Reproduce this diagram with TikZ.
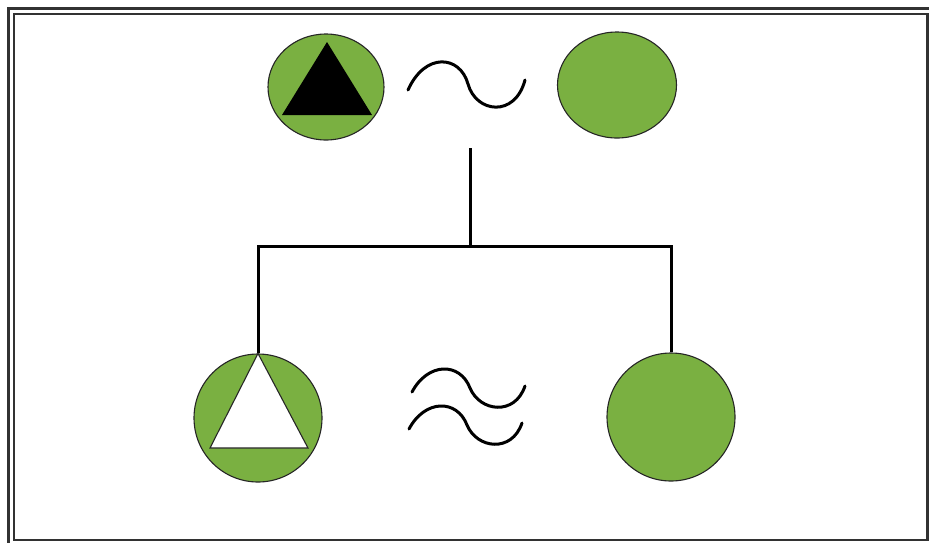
\documentclass[tikz,border=0pt]{standalone}
\usetikzlibrary{shapes.geometric}
\definecolor{leaf}{RGB}{122,176,65}
\definecolor{framegray}{RGB}{50,50,50}
\begin{document}
\begin{tikzpicture}[x=1pt,y=-1pt,
  person/.style={ellipse,draw=black!85,line width=1.1pt,fill=leaf,inner sep=0pt},
  link/.style={line width=3pt,black},
  wave/.style={line width=3pt,black,line cap=round},
  frameline/.style={draw=framegray}]
\useasboundingbox (0,0) rectangle (929,542);
\clip (0,0) rectangle (929,542);
\fill[white] (0,0) rectangle (929,542);
% frames
\draw[frameline,line width=3pt] (8.5,8.5) rectangle (945,560);
\draw[frameline,line width=2.5pt] (14,14) rectangle (927.5,540);
% top generation
\node[person,minimum width=116,minimum height=106] (father) at (326,87) {};
\fill[black] (327,42) -- (372,115) -- (282,115) -- cycle;
\node[person,minimum width=119,minimum height=106] (mother) at (617,85) {};
\draw[wave] (408,90) .. controls (425,52) and (460,55) .. (468,84) .. controls (476,113) and (515,118) .. (525,80);
% children
\node[person,minimum width=128,minimum height=128] (son) at (258,418) {};
\fill[white,draw=black!85,line width=1.1pt] (son.north) -- (308,448) -- (210,448) -- cycle;
\node[person,minimum width=128,minimum height=128] (daughter) at (671,417) {};
\draw[wave] (412,392) .. controls (428,362) and (460,362) .. (470,388) .. controls (480,412) and (515,416) .. (525,386);
\draw[wave] (409,429) .. controls (425,399) and (457,399) .. (467,425) .. controls (477,449) and (512,453) .. (522,423);
% connectors
\coordinate (stem) at (470,148);
\coordinate (bar) at (470,246);
\draw[link] (stem) -- (bar);
\draw[link] (son.north) -- (son.north |- bar) -- (daughter.north |- bar) -- (daughter.north);
\end{tikzpicture}
\end{document}
